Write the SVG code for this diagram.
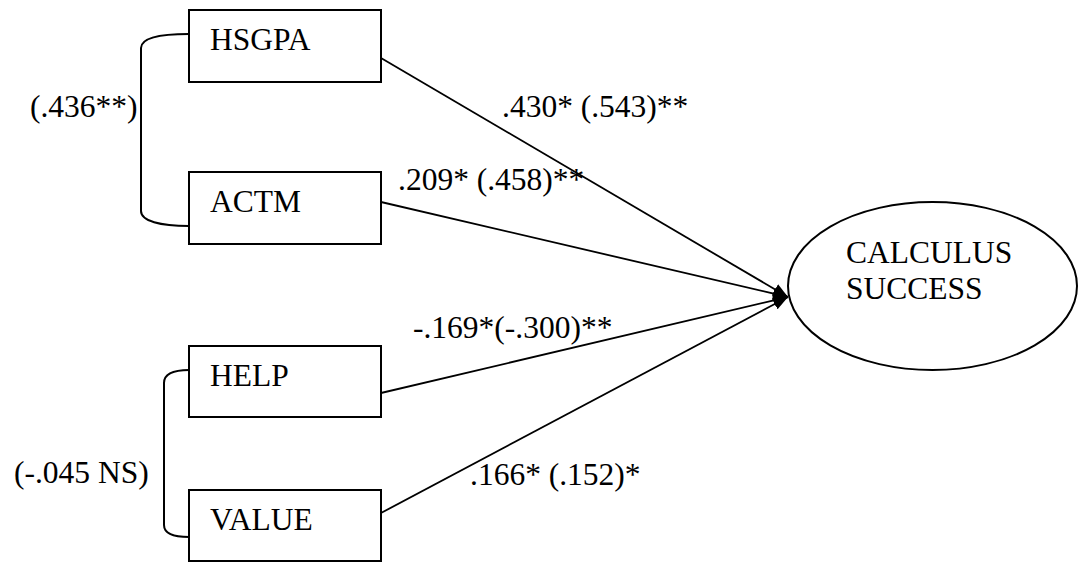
<svg xmlns="http://www.w3.org/2000/svg" width="1079" height="563" viewBox="0 0 1079 563">
<style>
text { font-family: "Liberation Serif", "Times New Roman", serif; font-size: 31.5px; fill: #000; }
.box { fill: #fff; stroke: #000; stroke-width: 2; }
.conn { fill: none; stroke: #000; stroke-width: 1.8; }
.brace { fill: none; stroke: #000; stroke-width: 2; }
</style>
<defs>
<marker id="arr" markerUnits="userSpaceOnUse" markerWidth="16" markerHeight="12" refX="15" refY="6" orient="auto" viewBox="0 0 16 12">
<path d="M0,0 L15,6 L0,12 Z" fill="#000"/>
</marker>
</defs>
<rect width="1079" height="563" fill="#fff"/>
<g id="connectors">
<line class="conn" x1="381" y1="58" x2="788" y2="297" marker-end="url(#arr)"/>
<line class="conn" x1="381" y1="202" x2="788" y2="297" marker-end="url(#arr)"/>
<line class="conn" x1="381" y1="393" x2="788" y2="297" marker-end="url(#arr)"/>
<line class="conn" x1="381" y1="513" x2="788" y2="297" marker-end="url(#arr)"/>
<path class="brace" d="M189,34 C160,34 141,38 141,48 V211 C141,221 160,226 189,226"/>
<path class="brace" d="M189,370 C172,370 164,374 164,383 V525 C164,533 172,537 189,537"/>
<text x="502" y="117">.430* (.543)**</text>
<text x="398" y="190">.209* (.458)**</text>
<text x="413" y="338">-.169*(-.300)**</text>
<text x="470" y="485">.166* (.152)*</text>
<text x="30" y="117">(.436**)</text>
<text x="14" y="483">(-.045 NS)</text>
</g>
<g id="hsgpa">
<rect class="box" x="189" y="10" width="192" height="72"/>
<text x="210" y="50">HSGPA</text>
</g>
<g id="actm">
<rect class="box" x="189" y="172" width="192" height="72"/>
<text x="210" y="212">ACTM</text>
</g>
<g id="help">
<rect class="box" x="189" y="346" width="192" height="71"/>
<text x="210" y="386">HELP</text>
</g>
<g id="value">
<rect class="box" x="189" y="490" width="192" height="71"/>
<text x="210" y="530">VALUE</text>
</g>
<g id="calculus">
<ellipse cx="932.5" cy="286" rx="144.5" ry="84" fill="#fff" stroke="#000" stroke-width="2"/>
<text x="846" y="263">CALCULUS</text>
<text x="846" y="299">SUCCESS</text>
</g>
</svg>
